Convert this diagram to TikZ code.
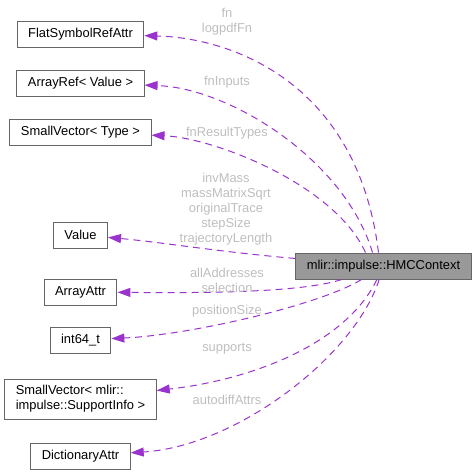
\documentclass[tikz,border=0pt]{standalone}
\usepackage{fontspec}
\setmainfont{Liberation Sans}
\usetikzlibrary{arrows.meta,positioning}
\definecolor{edgecol}{HTML}{9A32CD}
\definecolor{labcol}{HTML}{BEBEBE}
\definecolor{boxcol}{HTML}{666666}
\definecolor{curcol}{HTML}{999999}
\tikzset{
cls/.style={draw=boxcol, fill=white, line width=1pt, inner xsep=11pt, inner ysep=0pt, minimum height=26pt, font=\fontsize{12.9}{15}\selectfont}, % class boxes
cur/.style={cls, fill=curcol}, % the documented class
dep/.style={draw=edgecol, line width=1pt, dash pattern=on 7pt off 5pt, -{Triangle[length=13pt,width=9pt]}}, % usage edges
lab/.style={text=labcol, align=center, inner sep=0pt, font=\fontsize{12.9}{15}\selectfont}, % member names
}

\begin{document}
\begin{tikzpicture}[x=1pt,y=-1pt]
    \useasboundingbox (0,0) rectangle (475,475);
    \node[cur] (hmc) at (383.5,266) {mlir::impulse::HMCContext};
    \node[cls] (c_0) at (80.5,34)  {FlatSymbolRefAttr};
    \node[cls] (c_1) at (80.5,83)  {ArrayRef< Value >};
    \node[cls] (c_2) at (80.5,132) {SmallVector< Type >};
    \node[cls] (c_3) at (80.5,235) {Value};
    \node[cls] (c_4) at (80.5,292) {ArrayAttr};
    \node[cls] (c_5) at (80.5,340) {int64\_t};
    \node[cls, align=left, minimum height=40pt, inner ysep=2pt] (c_6) at (80.5,399) {SmallVector< mlir::\\impulse::SupportInfo >};
    \node[cls] (c_7) at (80.5,456) {DictionaryAttr};
    % edges
    \draw[dep] ([xshift=-5pt]hmc.north) .. controls (358,85) and (235,38) .. (c_0);
    \draw[dep] ([xshift=-11pt]hmc.north) .. controls (345,160) and (230,88) .. (c_1);
    \draw[dep] ([xshift=-18pt]hmc.north) .. controls (335,185) and (215,138) .. (c_2);
    \draw[dep] (hmc) .. controls (220,252) and (160,242) .. (c_3);
    \draw[dep] (hmc) .. controls (300,293) and (200,293) .. (c_4);
    \draw[dep] (hmc) .. controls (320,305) and (190,335) .. (c_5);
    \draw[dep] (hmc) .. controls (345,345) and (250,380) .. (c_6);
    \draw[dep] (hmc) .. controls (355,355) and (238,446) .. (c_7);
    % labels
    \node[lab] (l_0) at (227,21.5) {fn\\logpdfFn};
    \node[lab] (l_1) at (227,82)  {fnInputs};
    \node[lab] (l_2) at (227,133) {fnResultTypes};
    \node[lab] (l_3) at (226,209) {invMass\\massMatrixSqrt\\originalTrace\\stepSize\\trajectoryLength};
    \node[lab] (l_4) at (227,280) {allAddresses\\selection};
    \node[lab] (l_5) at (227,311) {positionSize};
    \node[lab] (l_6) at (227,349) {supports};
    \node[lab] (l_7) at (227,400) {autodiffAttrs};
\end{tikzpicture}
\end{document}
